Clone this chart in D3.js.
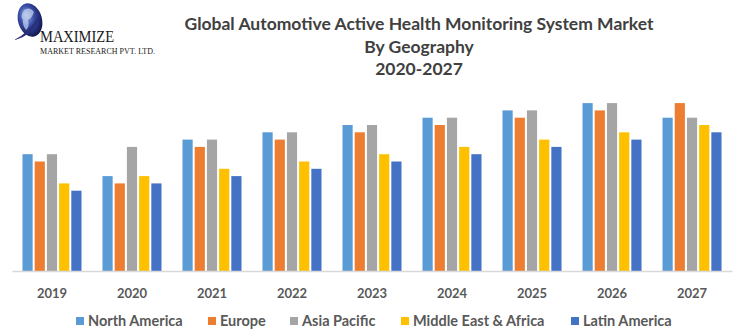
<!DOCTYPE html>
<html>
<head>
<meta charset="utf-8">
<script src="https://cdn.jsdelivr.net/npm/d3@7"></script>
<style>
  body { margin: 0; background: #fff; }
  svg { display: block; }
</style>
</head>
<body>
<div id="chart"></div>
<script>
const years = ["2019", "2020", "2021", "2022", "2023", "2024", "2025", "2026", "2027"];
const regions = ["North America", "Europe", "Asia Pacific", "Middle East & Africa", "Latin America"];
const regionColors = ["#5B9BD5", "#ED7D31", "#A5A5A5", "#FFC000", "#4472C4"];

const northAmerica = [16, 13, 18, 19, 20, 21, 22, 23, 21];
const europe       = [15, 12, 17, 18, 19, 20, 21, 22, 23];
const asiaPacific  = [16, 17, 18, 19, 20, 21, 22, 23, 21];
const middleEast   = [12, 13, 14, 15, 16, 17, 18, 19, 20];
const latinAmerica = [11, 12, 13, 14, 15, 16, 17, 18, 19];

const titleLines = ["Global Automotive Active Health Monitoring System Market", "By Geography", "2020-2027"];

const width = 741, height = 335;
const seriesValues = [northAmerica, europe, asiaPacific, middleEast, latinAmerica];
const data = years.map((yr, i) => ({
    year: yr,
    values: regions.map((r, k) => ({ region: r, value: seriesValues[k][i] }))
}));

const svg = d3.select("#chart").append("svg")
    .attr("width", width)
    .attr("height", height)
    .attr("viewBox", [0, 0, width, height]);

// logo: globe + company name
const defs = svg.append("defs");
const globeGrad = defs.append("radialGradient")
    .attr("id", "globeGrad").attr("cx", "40%").attr("cy", "35%").attr("r", "65%");
globeGrad.append("stop").attr("offset", "0%").attr("stop-color", "#9fb8e8");
globeGrad.append("stop").attr("offset", "45%").attr("stop-color", "#3a4fa8");
globeGrad.append("stop").attr("offset", "100%").attr("stop-color", "#141a55");

const logo = svg.append("g");
logo.append("ellipse")
    .attr("cx", 30).attr("cy", 20).attr("rx", 12).attr("ry", 17)
    .attr("transform", "rotate(-15,30,20)")
    .attr("fill", "url(#globeGrad)");
logo.append("path")
    .attr("d", "M24,10 q6,-4 10,2 q-2,6 -6,8 q2,6 -2,10 q-4,-6 -3,-10 q-3,-4 1,-10z")
    .attr("fill", "#c9d6f2").attr("opacity", 0.7);
logo.append("path")
    .attr("d", "M14,40 q14,-6 26,-26 q-6,22 -26,26z")
    .attr("fill", "#2a2f7a");
logo.append("text")
    .attr("x", 40).attr("y", 42)
    .attr("font-family", "Liberation Serif, DejaVu Serif, serif")
    .attr("font-size", 16)
    .attr("fill", "#1a1a1a")
    .attr("textLength", 74)
    .attr("lengthAdjust", "spacingAndGlyphs")
    .text("MAXIMIZE");
logo.append("text")
    .attr("x", 40).attr("y", 54)
    .attr("font-family", "Liberation Serif, DejaVu Serif, serif")
    .attr("font-size", 8)
    .attr("fill", "#1a1a1a")
    .attr("textLength", 115)
    .attr("lengthAdjust", "spacingAndGlyphs")
    .text("MARKET RESEARCH PVT. LTD.");

// title
svg.append("g").selectAll("text")
    .data(titleLines)
    .join("text")
    .attr("x", 419)
    .attr("y", (d, i) => 30 + i * 22.5)
    .attr("text-anchor", "middle")
    .attr("font-family", "Lato, sans-serif")
    .attr("font-weight", "bold")
    .attr("font-size", 17.5)
    .attr("fill", "#404040")
    .text(d => d);

// scales
const x0 = d3.scaleBand()
    .domain(years)
    .range([12, 732])
    .paddingInner(0.2625)
    .paddingOuter(0.131);

const x1 = d3.scaleBand()
    .domain(regions)
    .range([0, x0.bandwidth()])
    .paddingInner(0.167);

const y = d3.scaleLinear()
    .domain([0, 25])
    .range([271, 271 - 25 * 7.3]);

const color = d3.scaleOrdinal().domain(regions).range(regionColors);

// bars
svg.append("g")
    .selectAll("g")
    .data(data)
    .join("g")
    .attr("transform", d => `translate(${x0(d.year)},0)`)
    .selectAll("rect")
    .data(d => d.values)
    .join("rect")
    .attr("x", d => x1(d.region))
    .attr("y", d => y(d.value))
    .attr("width", x1.bandwidth())
    .attr("height", d => y(0) - y(d.value))
    .attr("fill", d => color(d.region));

// x axis
const xAxis = svg.append("g")
    .attr("transform", `translate(0,${y(0)})`)
    .call(d3.axisBottom(x0).tickSize(0).tickPadding(18));
xAxis.select(".domain").attr("stroke", "#d9d9d9").attr("stroke-width", 1.5);
xAxis.selectAll("text")
    .attr("font-family", "Lato, sans-serif")
    .attr("font-weight", "bold")
    .attr("font-size", 13)
    .attr("fill", "#595959");

// legend
const legendX = [0, 132, 214, 325, 495];
const legend = svg.append("g").attr("transform", "translate(76,317)");
regions.forEach((r, i) => {
    const item = legend.append("g").attr("transform", `translate(${legendX[i]},0)`);
    item.append("rect")
        .attr("width", 8).attr("height", 8)
        .attr("fill", color(r));
    item.append("text")
        .attr("x", 12).attr("y", 9)
        .attr("font-family", "Lato, sans-serif")
        .attr("font-weight", "bold")
        .attr("font-size", 14.5)
        .attr("fill", "#595959")
        .text(r);
});
</script>
</body>
</html>
